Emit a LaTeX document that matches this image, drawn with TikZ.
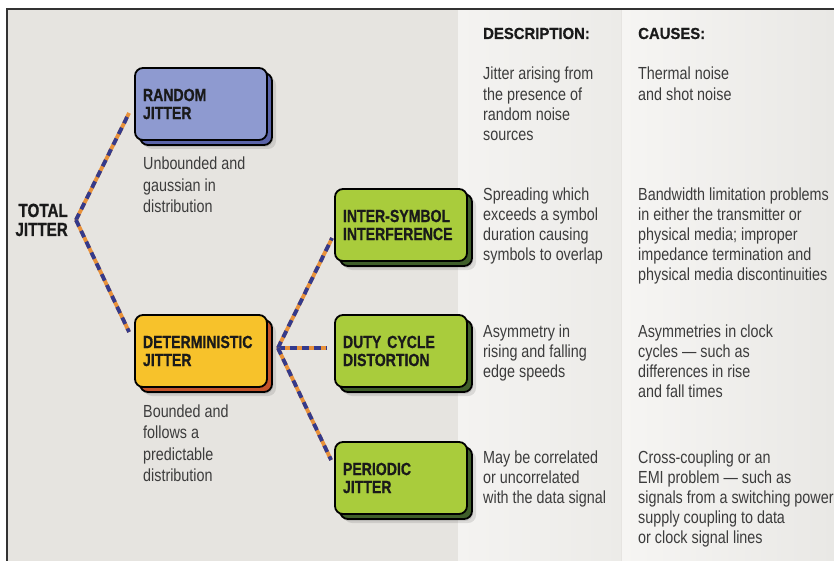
\documentclass[tikz,border=0pt]{standalone}
\usepackage{fontspec}
\setmainfont{Liberation Sans}[FakeStretch=0.82]
\newfontfamily\condbold{Liberation Sans}[FakeStretch=0.80, FakeBold=0.8]
\newfontfamily\headbold{Liberation Sans}[FakeStretch=0.93, FakeBold=0.6]
\usetikzlibrary{shadows}
\definecolor{bgc}{HTML}{E6E4E0}
\definecolor{descL}{HTML}{F4F3F1}
\definecolor{descR}{HTML}{ECEBE8}
\definecolor{causeL}{HTML}{F6F5F3}
\definecolor{causeR}{HTML}{E9E8E5}
\definecolor{bluef}{HTML}{8E9AD0}
\definecolor{bluee}{HTML}{5A63A8}
\definecolor{yellowf}{HTML}{F7C22B}
\definecolor{yellowe}{HTML}{C4532A}
\definecolor{greenf}{HTML}{A9CC3C}
\definecolor{greene}{HTML}{3F5E2A}
\definecolor{jblue}{HTML}{343A8C}
\definecolor{jorange}{HTML}{E8913A}
\definecolor{txtc}{HTML}{3C3C3C}
\definecolor{boxtxt}{HTML}{1A1A1A}
\begin{document}
\begin{tikzpicture}[x=1pt,y=-1pt,
  jbox/.style 2 args={rectangle, rounded corners=8pt, draw=black, line width=1.8pt,
    fill=#1, minimum height=72pt, text width=116pt, inner xsep=8pt, inner ysep=0pt,
    align=left, text=boxtxt, font=\condbold\bfseries\fontsize{17.6}{18}\selectfont,
    general shadow={shadow xshift=9pt, shadow yshift=-9pt, fill=black, fill opacity=0.10, draw=none},
    general shadow={shadow xshift=6pt, shadow yshift=-7pt, fill=black, fill opacity=0.10, draw=none},
    general shadow={shadow xshift=5pt, shadow yshift=-5pt, fill=#2, draw=black, line width=1.8pt}},
  jline/.style={line width=3.8pt, draw=jblue, dash pattern=on 7pt off 5pt,
    preaction={draw=jorange, solid, line width=3.8pt}},
  lbl/.style={anchor=base west, align=left, inner sep=0pt, text=txtc,
    font=\fontsize{17.5}{21.5}\selectfont},
  col/.style={anchor=base west, align=left, inner sep=0pt, text=txtc,
    font=\fontsize{17.5}{20.2}\selectfont},
  hdr/.style={anchor=base west, inner sep=0pt, text=boxtxt,
    font=\headbold\bfseries\fontsize{16}{18}\selectfont},
  tot/.style={anchor=base east, align=right, inner sep=0pt, text=boxtxt,
    font=\condbold\bfseries\fontsize{19}{19}\selectfont}
]
\useasboundingbox (0,0) rectangle (834,561);
\fill[white] (0,0) rectangle (834,561);
\fill[bgc] (7,9) rectangle (834,561);
\shade[left color=descL, right color=descR] (458,9) rectangle (621,561);
\shade[left color=causeL, right color=causeR] (622,9) rectangle (834,561);
\draw[black!80, line width=1.4pt] (7,561) -- (7,9) -- (834,9);

% boxes
\node[jbox={bluef}{bluee}] (rj) at (201,104) {RANDOM\\JITTER};
\node[jbox={yellowf}{yellowe}] (dj) at (201,351) {DETERMINISTIC\\JITTER};
\node[jbox={greenf}{greene}] (isi) at (401,225) {INTER-SYMBOL\\INTERFERENCE};
\node[jbox={greenf}{greene}] (dcd) at (401,351) {DUTY CYCLE\\DISTORTION};
\node[jbox={greenf}{greene}] (pj) at (401,478) {PERIODIC\\JITTER};

% connectors
\coordinate (tjp) at (76,220);
\coordinate (djp) at ([shift={(10,-3)}]dj.east);
\draw[jline] (tjp) -- ([shift={(-5,9)}]rj.west);
\draw[jline] (tjp) -- ([shift={(-5,-19)}]dj.west);
\draw[jline] (djp) -- ([shift={(-2,13)}]isi.west);
\draw[jline] (djp) -- ([shift={(-7,-3)}]dcd.west);
\draw[jline] (djp) -- ([shift={(-3,-18)}]pj.west);

% left texts (anchor = baseline of last line)
\node[tot] (tj) at (68,236) {TOTAL\\JITTER};
\node[lbl] (rjd) at (143,213) {Unbounded and\\gaussian in\\distribution};
\node[lbl] (djd) at (143,481.5) {Bounded and\\follows a\\predictable\\distribution};

% headers
\node[hdr] (hd) at (483,39) {DESCRIPTION:};
\node[hdr] (hc) at (638,39) {CAUSES:};

% description column
\node[col] (d1) at (483,140.6) {Jitter arising from\\the presence of\\random noise\\sources};
\node[col] (d2) at (483,260.6) {Spreading which\\exceeds a symbol\\duration causing\\symbols to overlap};
\node[col] (d3) at (483,377.4) {Asymmetry in\\rising and falling\\edge speeds};
\node[col] (d4) at (483,503.4) {May be correlated\\or uncorrelated\\with the data signal};

% causes column
\node[col] (c1) at (638,100.2) {Thermal noise\\and shot noise};
\node[col] (c2) at (638,280.8) {Bandwidth limitation problems\\in either the transmitter or\\physical media; improper\\impedance termination and\\physical media discontinuities};
\node[col] (c3) at (638,397.6) {Asymmetries in clock\\cycles — such as\\differences in rise\\and fall times};
\node[col] (c4) at (638,543.8) {Cross-coupling or an\\EMI problem — such as\\signals from a switching power\\supply coupling to data\\or clock signal lines};
\end{tikzpicture}
\end{document}
